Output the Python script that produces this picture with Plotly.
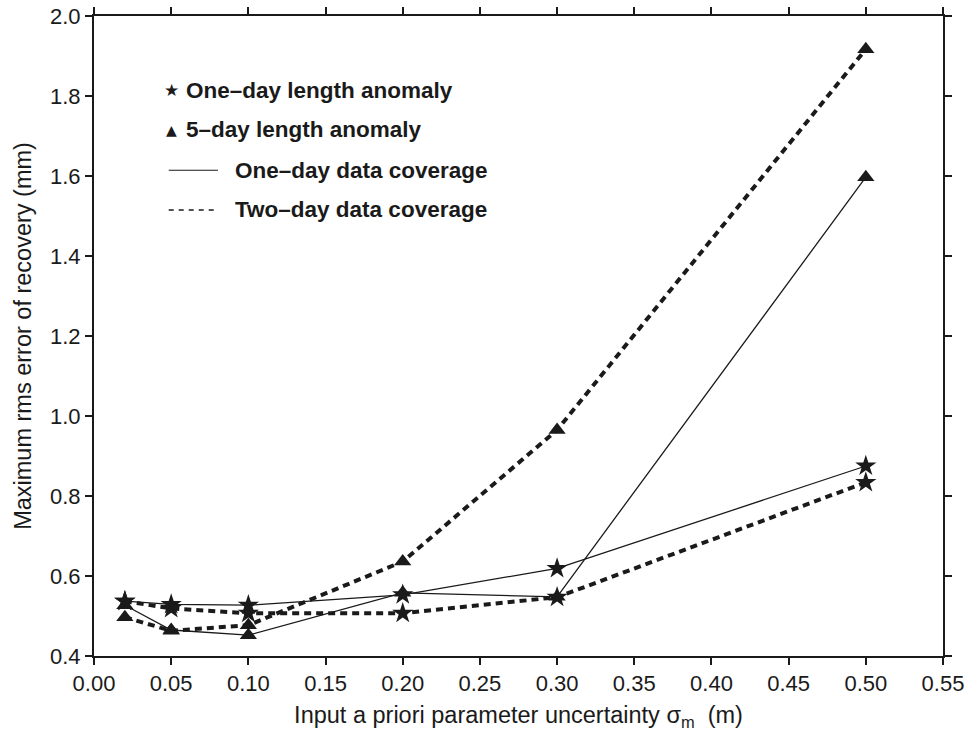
import plotly.graph_objects as go

x_vals = [0.02, 0.05, 0.10, 0.20, 0.30, 0.50]

# One-day length anomaly (stars)
star_one_day_cov = [0.537, 0.529, 0.527, 0.553, 0.619, 0.875]
star_two_day_cov = [0.537, 0.519, 0.507, 0.507, 0.547, 0.834]
# 5-day length anomaly (triangles)
tri_one_day_cov = [0.527, 0.465, 0.452, 0.558, 0.548, 1.597]
tri_two_day_cov = [0.497, 0.463, 0.477, 0.636, 0.965, 1.917]

x_ticks = [0.00, 0.05, 0.10, 0.15, 0.20, 0.25, 0.30, 0.35, 0.40, 0.45, 0.50, 0.55]
y_ticks = [0.4, 0.6, 0.8, 1.0, 1.2, 1.4, 1.6, 1.8, 2.0]

legend_labels = ["One\u2013day length anomaly", "5\u2013day length anomaly",
                 "One\u2013day data coverage", "Two\u2013day data coverage"]

FONT = "Liberation Sans, Arial, Helvetica, sans-serif"
BLK = "#1a1a1a"

fig = go.Figure()

def add(y, symbol, dash, width, size):
    fig.add_trace(go.Scatter(
        x=x_vals, y=y, mode="lines+markers",
        line=dict(color=BLK, width=width, dash=dash),
        marker=dict(symbol=symbol, size=size, color=BLK),
        showlegend=False, cliponaxis=False))

add(star_one_day_cov, "star", "solid", 1.3, 16)
add(tri_one_day_cov, "triangle-up", "solid", 1.3, 15)
add(star_two_day_cov, "star", "7px,5px", 4, 16)
add(tri_two_day_cov, "triangle-up", "7px,5px", 4, 15)

# Legend drawn as annotations and short line shapes (paper coords)
leg_y = [0.884, 0.822, 0.759, 0.697]
fig.add_annotation(x=0.091, y=leg_y[0], xref="paper", yref="paper", text="\u2605",
                   showarrow=False, font=dict(size=17, color=BLK, family="DejaVu Sans"),
                   xanchor="center", yanchor="middle")
fig.add_annotation(x=0.091, y=leg_y[1], xref="paper", yref="paper", text="\u25B2",
                   showarrow=False, font=dict(size=14, color=BLK, family="DejaVu Sans"),
                   xanchor="center", yanchor="middle")
for i, lab in enumerate(legend_labels):
    xx = 0.106 if i < 2 else 0.164
    fig.add_annotation(x=xx, y=leg_y[i], xref="paper", yref="paper", text="<b>%s</b>" % lab,
                       showarrow=False, font=dict(size=22.5, color=BLK, family=FONT),
                       xanchor="left", yanchor="middle")
fig.add_shape(type="line", xref="paper", yref="paper", x0=0.088, x1=0.146,
              y0=leg_y[2], y1=leg_y[2], line=dict(color=BLK, width=1.2))
fig.add_shape(type="line", xref="paper", yref="paper", x0=0.088, x1=0.146,
              y0=leg_y[3], y1=leg_y[3], line=dict(color=BLK, width=1.5, dash="5px,5px"))

axis_common = dict(showline=True, linecolor=BLK, linewidth=2, mirror="ticks",
                   ticks="outside", ticklen=7, tickwidth=1.5, tickcolor=BLK,
                   showgrid=False, zeroline=False, automargin=False,
                   tickfont=dict(size=22, color=BLK, family=FONT))

fig.update_xaxes(range=[0, 0.55], tickvals=x_ticks,
                 ticktext=["%.2f" % v for v in x_ticks],
                 title=dict(text="Input a priori parameter uncertainty \u03c3<sub>m</sub>  (m)",
                            font=dict(size=23.5, color=BLK, family=FONT), standoff=14),
                 **axis_common)
fig.update_yaxes(range=[0.4, 2.0], tickvals=y_ticks,
                 ticktext=["%.1f" % v for v in y_ticks],
                 title=dict(text="Maximum rms error of recovery (mm)",
                            font=dict(size=23.5, color=BLK, family=FONT), standoff=12),
                 **axis_common)

fig.update_layout(width=980, height=731, plot_bgcolor="white", paper_bgcolor="white",
                  margin=dict(l=94, r=37, t=16, b=75), showlegend=False)

fig.write_html("out.html")
